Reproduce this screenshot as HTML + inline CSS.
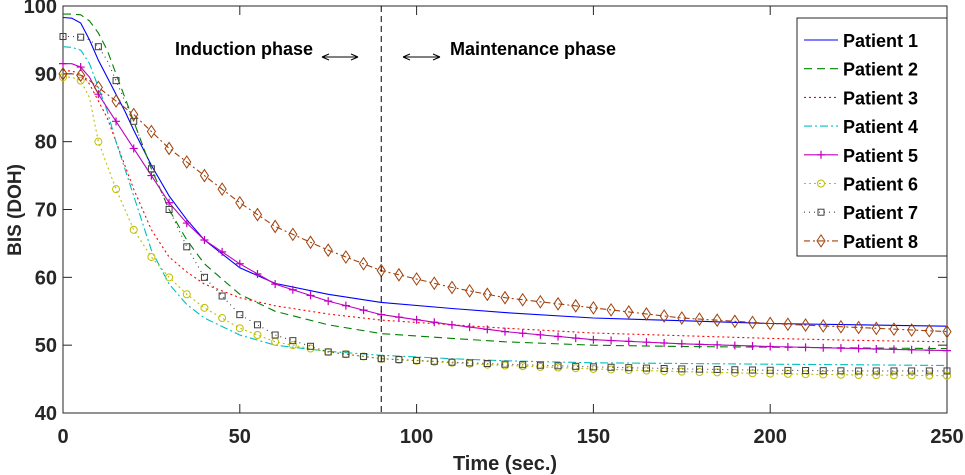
<!DOCTYPE html>
<html><head><meta charset="utf-8"><style>
body{margin:0;background:#fff;}
svg{display:block;font-family:"Liberation Sans",Arial,sans-serif;}
</style></head><body>
<svg id="chart" width="965" height="475">
<g id="plot"></g>
</svg>
<script>
const times=[0,2.5,5,7.5,10,12.5,15,17.5,20,25,30,35,40,50,60,75,90,110,125,150,175,200,225,250];
const p1=[98.3,98.2,97.5,95,92,89.5,87,84.5,81.7,76.5,72,68.5,65.5,61.4,59.1,57.5,56.3,55.4,54.8,54,53.6,53.2,53,52.8];
const p2=[98.8,98.8,98.7,97.8,96,93.5,90,86.5,83,76,70,65.5,62,57.5,55,53,51.7,51,50.5,50,49.8,49.7,49.6,49.5];
const p3=[90.5,90.4,90,88.5,86,83.5,80,76.5,73,67,63,60.8,59,57,55.8,54.6,53.7,53,52.5,51.8,51.4,51,50.7,50.5];
const p4=[94,93.9,93.5,91.5,88,84.5,80,76,72,64,59,56,54,51.5,50,49.1,48.5,48,47.7,47.4,47.3,47.2,47.1,47];
const p5=[91.5,91.5,91,89.5,87,85,83,81,79,75,71,68,65.5,62,59,56.5,54.5,53,52,50.8,50.2,49.8,49.5,49.2];
const p6=[89.5,89.5,89,86.5,80,76.5,73,70,67,63,60,57.5,55.5,52.5,50.5,49,48,47.4,47,46.5,46.1,45.8,45.6,45.5];
const p7=[95.5,95.5,95.4,95,94,92,89,86,83,76,70,64.5,60,54.5,51.5,49,48,47.5,47.2,46.8,46.5,46.3,46.2,46.2];
const p8=[90,90,89.8,89,88,87,86,85,84,81.5,79,77,75,71,67.5,64,61,58.5,57,55.5,54,53.2,52.6,52];
const series=[p1,p2,p3,p4,p5,p6,p7,p8];
const names=["Patient 1","Patient 2","Patient 3","Patient 4","Patient 5","Patient 6","Patient 7","Patient 8"];
const xTicks=[0,50,100,150,200,250];
const yTicks=[40,50,60,70,80,90,100];
const colors=["#0000ff","#008000","#ff0000","#00bfbf","#bf00bf","#bfbf00","#404040","#a0400a"];
const dashes=["","8,5","2,3","8,3,2,3","","2,3","1,4","6,3,2,3"];
const markers=["","","","","plus","circle","square","diamond"];
const X0=63,X1=947,Y0=413,Y1=6;
const sx=t=>X0+(t/250)*(X1-X0);
const sy=v=>Y0-(v-40)/60*(Y0-Y1);
const NS="http://www.w3.org/2000/svg";
const svg=document.getElementById('chart');
function mk(tag,at,parent){const e=document.createElementNS(NS,tag);for(const k in at)e.setAttribute(k,at[k]);(parent||svg).appendChild(e);return e;}
function interp(arr,t){for(let i=0;i<times.length-1;i++){if(t>=times[i]&&t<=times[i+1]){const f=(t-times[i])/(times[i+1]-times[i]);return arr[i]+f*(arr[i+1]-arr[i]);}}return arr[arr.length-1];}
function marker(type,x,y,c,parent){
 if(type==="plus"){mk('path',{d:`M${x-4},${y}H${x+4}M${x},${y-4}V${y+4}`,stroke:c,'stroke-width':1.2,fill:'none'},parent);}
 else if(type==="circle"){mk('circle',{cx:x,cy:y,r:3.5,stroke:c,fill:'none'},parent);}
 else if(type==="square"){mk('rect',{x:x-3,y:y-3,width:6,height:6,stroke:c,fill:'none'},parent);}
 else if(type==="diamond"){mk('path',{d:`M${x},${y-6}L${x+4},${y}L${x},${y+6}L${x-4},${y}Z`,stroke:c,fill:'none'},parent);}
}
const ax=mk('rect',{x:X0,y:Y1,width:X1-X0,height:Y0-Y1,fill:'none',stroke:'#262626','stroke-width':1});


xTicks.forEach(t=>{
 mk('line',{x1:sx(t),x2:sx(t),y1:Y0,y2:Y0-9,stroke:'#262626'});
 mk('line',{x1:sx(t),x2:sx(t),y1:Y1,y2:Y1+9,stroke:'#262626'});
 const tx=mk('text',{x:sx(t),y:Y0+30,'text-anchor':'middle','font-size':20,'font-weight':'bold',fill:'#262626'});
 tx.textContent=t;
 
 
});
yTicks.forEach(v=>{
 mk('line',{x1:X0,x2:X0+9,y1:sy(v),y2:sy(v),stroke:'#262626'});
 mk('line',{x1:X1,x2:X1-9,y1:sy(v),y2:sy(v),stroke:'#262626'});
 const tx=mk('text',{x:X0-6,y:sy(v)+7,'text-anchor':'end','font-size':20,'font-weight':'bold',fill:'#262626'});
 tx.textContent=v;
 
 
});
const xl=mk('text',{x:505,y:470,'text-anchor':'middle','font-size':20,'font-weight':'bold',fill:'#262626'});xl.textContent="Time (sec.)";


const yl=mk('text',{x:21,y:210,'text-anchor':'middle','font-size':19,'font-weight':'bold',fill:'#262626',transform:'rotate(-90 21 210)'});yl.textContent="BIS (DOH)";


series.forEach((arr,i)=>{
 const g=mk('g',{});
 
 
 const d=arr.map((v,j)=>(j?'L':'M')+sx(times[j]).toFixed(1)+','+sy(v).toFixed(1)).join('');
 mk('path',{d:d,stroke:colors[i],fill:'none','stroke-width':1.1,'stroke-dasharray':dashes[i]},g);
 if(markers[i]){for(let t=0;t<=250;t+=5){marker(markers[i],sx(t),sy(interp(arr,t)),colors[i],g);}}
});
const dv=mk('line',{x1:sx(90),x2:sx(90),y1:Y1,y2:Y0,stroke:'#000','stroke-dasharray':'6,4'});


const t1=mk('text',{x:175,y:55,'font-size':18,'font-weight':'bold',fill:'#000'});t1.textContent="Induction phase";


const t2=mk('text',{x:450,y:55,'font-size':18,'font-weight':'bold',fill:'#000'});t2.textContent="Maintenance phase";


mk('path',{d:'M322,57H358M322,57l7,-3M322,57l7,3M358,57l-7,-3M358,57l-7,3',stroke:'#000',fill:'none'});
mk('path',{d:'M403,57H440M403,57l7,-3M403,57l7,3M440,57l-7,-3M440,57l-7,3',stroke:'#000',fill:'none'});
const lg=mk('g',{});


mk('rect',{x:797,y:18,width:150,height:238,fill:'#fff',stroke:'#262626'},lg);
names.forEach((n,i)=>{
 const y=40+i*28.7;
 const e=mk('g',{},lg);
 
 
 mk('line',{x1:804,x2:838,y1:y,y2:y,stroke:colors[i],'stroke-dasharray':dashes[i],'stroke-width':1.1},e);
 if(markers[i])marker(markers[i],821,y,colors[i],e);
 const tx=mk('text',{x:843,y:y+7,'font-size':18,'font-weight':'bold',fill:'#000'},e);tx.textContent=n;
});
</script>
</body></html>
